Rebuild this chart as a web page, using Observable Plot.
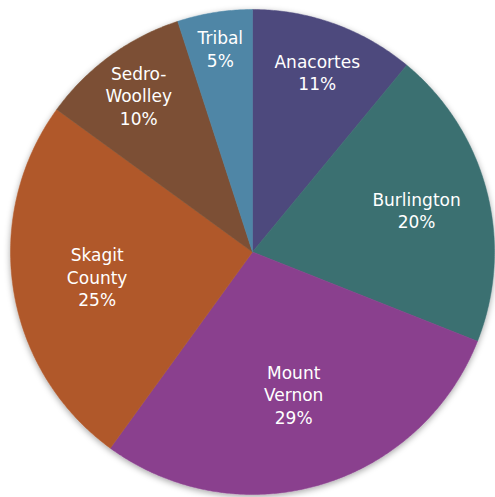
<!DOCTYPE html>
<html>
<head>
<meta charset="utf-8">
<script src="https://cdn.jsdelivr.net/npm/d3@7"></script>
<script src="https://cdn.jsdelivr.net/npm/@observablehq/plot@0.6"></script>
<style>
  html, body { margin: 0; padding: 0; background: #fff; }
  #chart svg { display: block; }
</style>
</head>
<body>
<div id="chart"></div>
<script>
// Data (clockwise from 12 o'clock)
const categories = ["Anacortes", "Burlington", "Mount Vernon", "Skagit County", "Sedro-Woolley", "Tribal"];
const labelText = ["Anacortes", "Burlington", "Mount\nVernon", "Skagit\nCounty", "Sedro-\nWoolley", "Tribal"];
const shares = [11, 20, 29, 25, 10, 5];
const colors = ["#4e4a7d", "#3b6f71", "#8a418e", "#b0592a", "#7b5035", "#4f86a6"];

// Build slice polygons from pie angles
const pie = d3.pie().sort(null).value(d => d.value)(
  categories.map((c, i) => ({name: c, value: shares[i], label: labelText[i]}))
);
const slicePts = [];
const labels = [];
for (const p of pie) {
  const name = p.data.name;
  slicePts.push({name, x: 0, y: 0});
  const n = Math.max(8, Math.ceil((p.endAngle - p.startAngle) / (Math.PI / 360)));
  for (let k = 0; k <= n; k++) {
    const a = p.startAngle + (p.endAngle - p.startAngle) * k / n;
    slicePts.push({name, x: Math.sin(a), y: Math.cos(a)});
  }
  slicePts.push({name, x: 0, y: 0});
  const frac = p.data.value / 100;
  const r = 0.9 - 1.0 * frac;
  const mid = (p.startAngle + p.endAngle) / 2;
  labels.push({x: r * Math.sin(mid), y: r * Math.cos(mid), text: `${p.data.label}\n${p.data.value}%`});
}

const chart = Plot.plot({
  width: 495,
  height: 497,
  marginLeft: 10,
  marginRight: 1,
  marginTop: 9,
  marginBottom: 3,
  x: {domain: [-1, 1], axis: null},
  y: {domain: [-1, 1], axis: null},
  color: {domain: categories, range: colors},
  style: {fontFamily: "DejaVu Sans, sans-serif"},
  marks: [
    Plot.line(slicePts, {x: "x", y: "y", z: "name", fill: "name", stroke: "name", strokeWidth: 0.5, curve: "linear"}),
    Plot.text(labels, {x: "x", y: "y", text: "text", fill: "white", fontSize: 17, lineHeight: 1.32, textAnchor: "middle"})
  ]
});

// subtle drop shadow under the pie
const svg = d3.select(chart);
const defs = svg.insert("defs", ":first-child");
const f = defs.append("filter").attr("id", "pieShadow").attr("x", "-10%").attr("y", "-10%").attr("width", "120%").attr("height", "120%");
f.append("feDropShadow").attr("dx", 0).attr("dy", 2).attr("stdDeviation", 3).attr("flood-color", "#000").attr("flood-opacity", 0.35);
svg.select("g[aria-label='line']").attr("filter", "url(#pieShadow)");

document.getElementById("chart").appendChild(chart);
</script>
</body>
</html>
